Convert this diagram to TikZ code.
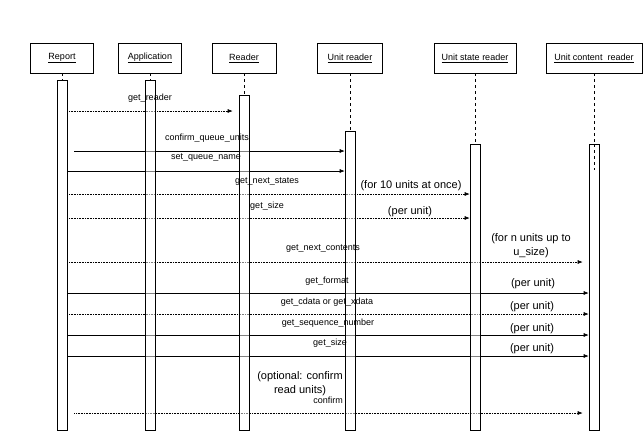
\documentclass[tikz,border=0pt]{standalone}
\usepackage{fontspec}
\setmainfont{Liberation Sans}
\usetikzlibrary{arrows.meta}
\pgfdeclarelayer{back}
\pgfsetlayers{back,main}

\begin{document}
\begin{tikzpicture}[x=1pt,y=-1pt,
	obj/.style={draw,fill=white,line width=.6pt,minimum height=30pt,inner sep=0pt,font=\fontsize{9}{10}\selectfont},
	bar/.style={draw,fill=white,fill opacity=.5,draw opacity=1,line width=.6pt,minimum width=10pt,inner sep=0pt,anchor=north},
	msg/.style={-{Latex[length=5pt,width=4pt]},line width=.6pt},
	dotarr/.style={densely dotted},
	solidarr/.style={solid},
	dotshort/.style={densely dotted,shorten >=6pt},
	solidlate/.style={solid,shorten <=7pt},
	dotboth/.style={densely dotted,shorten >=6pt,shorten <=7pt},
	lbl/.style={font=\fontsize{9}{10}\selectfont,inner sep=0pt},
	note/.style={font=\fontsize{11}{14}\selectfont,align=center,inner sep=0pt}]
	\useasboundingbox (0,0) rectangle (644,432);
	% objects and their activation bars
	\foreach \n/\t/\x/\w/\top in {rep/Report/62/63/80,app/Application/150/63/80,rdr/Reader/244/64/95,unr/Unit reader/350/65/131,usr/Unit state reader/475/82/144,ucr/Unit content\ \ reader/594/96/144}{
		\node[obj,minimum width=\w pt] (\n) at (\x,58) {\underline{\t}};
		\pgfmathsetmacro\h{430-\top}
		\node[bar,minimum height=\h pt] (\n-bar) at (\x,\top) {};
		\draw[dashed,line width=.6pt] (\n.south) -- (\n-bar.north);
	}
	\draw[dashed,line width=.6pt] (ucr-bar.north) -- ++(0,26);
	% messages
	\begin{pgfonlayer}{back}
	\foreach \y/\a/\b/\s in {111/rep/rdr/dotshort,151/rep/unr/solidlate,171/rep/unr/solidarr,194/rep/usr/dotarr,218/rep/usr/dotarr,262/rep/ucr/dotshort,293/rep/ucr/solidarr,314/rep/ucr/dotarr,335/rep/ucr/solidarr,356/rep/ucr/solidarr,413/rep/ucr/dotboth}
		\draw[msg,\s] (\a-bar.east |- 0,\y) -- (\b-bar.west |- 0,\y);
	\end{pgfonlayer}
	\foreach \n/\x/\y/\t in {l1/150/98/get\_reader,l2/207/138/confirm\_queue\_units,l3/206/158/set\_queue\_name,l4/267/182/get\_next\_states,l5/267/206/get\_size,l6/323/249/get\_next\_contents,l7/327/281/get\_format,l8/327/302/get\_cdata or get\_xdata,l9/328/323/get\_sequence\_number,l10/330/343/get\_size,l11/328/400/confirm}
		\node[lbl] (\n) at (\x,\y) {\t};
	\foreach \n/\x/\y in {n2/410/212,n4/533/284,n5/532/307,n6/532/329,n7/532/349}
		\node[note] (\n) at (\x,\y) {(per unit)};
	\node[note] (n1) at (411,186) {(for 10 units at once)};
	\node[note] (n3) at (531,246) {(for n units up to\\u\_size)};
	\node[note] (n8) at (300,384) {(optional: confirm\\read units)};
\end{tikzpicture}
\end{document}
